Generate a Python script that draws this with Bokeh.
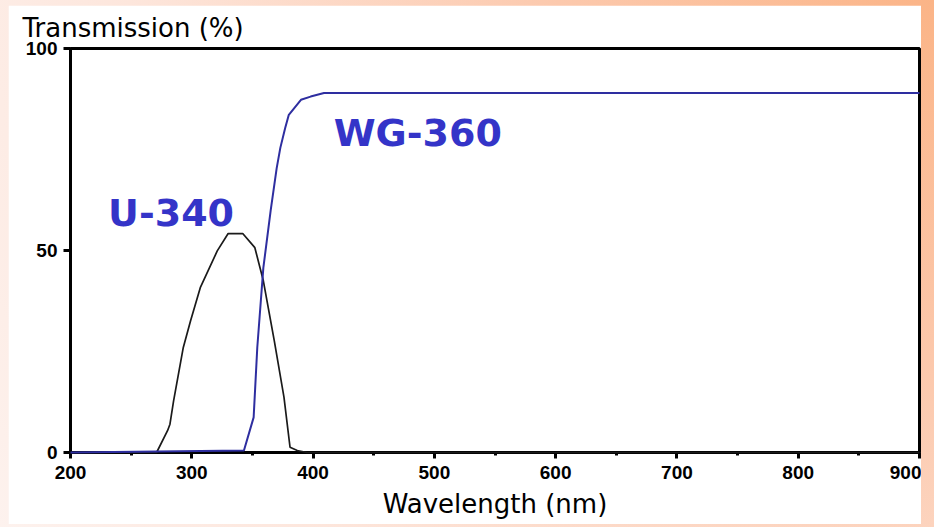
from bokeh.plotting import figure
from bokeh.models import Range1d, FixedTicker, ColumnDataSource
from bokeh.core.properties import value
from bokeh.embed import file_html
from bokeh.resources import INLINE

# ---- data ----
u340_wl = [200, 271, 280, 282, 285, 293, 299, 307, 321, 330, 342, 352, 359, 368, 376, 381, 387, 395, 900]
u340_t = [0, 0, 5.4, 7, 12.8, 26, 32.6, 40.8, 49.9, 54.2, 54.2, 50.7, 42.5, 27.7, 13.7, 1.3, 0.5, 0, 0]

wg360_wl = [200, 343, 351, 354, 359, 365, 370, 373, 377, 380, 390, 398, 409, 900]
wg360_t = [0, 0.5, 8.7, 26, 45.7, 59.8, 70.4, 75.4, 80.3, 83.6, 87.3, 88.1, 89, 89]

x_ticks = [200, 300, 400, 500, 600, 700, 800, 900]
x_minor = [250, 350, 450, 550, 650, 750, 850]
y_ticks = [0, 50, 100]

series_names = ["U-340", "WG-360"]
name_x = [231, 417]
name_y = [59.3, 79.0]

x_title = "Wavelength (nm)"
y_title = "Transmission (%)"

p = figure(width=913, height=519, x_range=Range1d(200, 900), y_range=Range1d(0, 100),
           output_backend="svg", toolbar_location=None,
           min_border_left=62, min_border_right=2, min_border_top=42, min_border_bottom=72)
p.margin = (5, 0, 0, 8)
p.grid.visible = False
p.background_fill_color = "white"
p.border_fill_color = "white"
p.outline_line_color = "black"
p.outline_line_width = 3
p.outline_line_alpha = 1

for ax in (p.xaxis, p.yaxis):
    ax.axis_line_color = "black"
    ax.axis_line_width = 3
    ax.major_tick_line_color = "black"
    ax.major_tick_line_width = 3
    ax.minor_tick_line_color = "black"
    ax.minor_tick_line_width = 3
    ax.major_tick_in = 0
    ax.minor_tick_in = 0
    ax.major_label_text_font = "Liberation Sans"
    ax.major_label_text_font_style = "bold"
    ax.major_label_text_font_size = "19px"
    ax.major_label_text_color = "black"

p.xaxis.ticker = FixedTicker(ticks=x_ticks, minor_ticks=x_minor)
p.yaxis.ticker = FixedTicker(ticks=y_ticks, minor_ticks=[])
p.xaxis.major_tick_out = 6
p.xaxis.minor_tick_out = 3
p.xaxis.major_label_standoff = 7
p.yaxis.major_tick_out = 7
p.yaxis.minor_tick_out = 0
p.yaxis.major_label_standoff = 6

p.xaxis.axis_label = x_title
p.xaxis.axis_label_text_font = "DejaVu Sans"
p.xaxis.axis_label_text_font_style = "normal"
p.xaxis.axis_label_text_font_size = "26px"
p.xaxis.axis_label_text_color = "black"
p.xaxis.axis_label_standoff = 7

p.title.text = y_title
p.title.align = "left"
p.title.offset = -48
p.title.standoff = 11
p.title.text_font = "DejaVu Sans"
p.title.text_font_style = "normal"
p.title.text_font_size = "26px"
p.title.text_color = "black"

p.line(u340_wl, u340_t, line_color="#1a1a1a", line_width=1.7, level="overlay")
p.line(wg360_wl, wg360_t, line_color="#2E2EA0", line_width=2, level="overlay")

src = ColumnDataSource(dict(x=name_x, y=name_y, t=series_names))
p.text(x="x", y="y", text="t", source=src, text_font=value("DejaVu Sans"),
       text_font_style="bold", text_font_size="38px", text_color="#3434C8",
       text_baseline="alphabetic", text_align="left")

html = file_html(p, INLINE)
html = html.replace("</head>", "<style>body{background:radial-gradient(circle at 100% 0%, #fbb487 0%, #fcc9ad 35%, #fde6dc 75%, #fdf2ee 100%);}</style></head>", 1)
open("out.html", "w").write(html)
